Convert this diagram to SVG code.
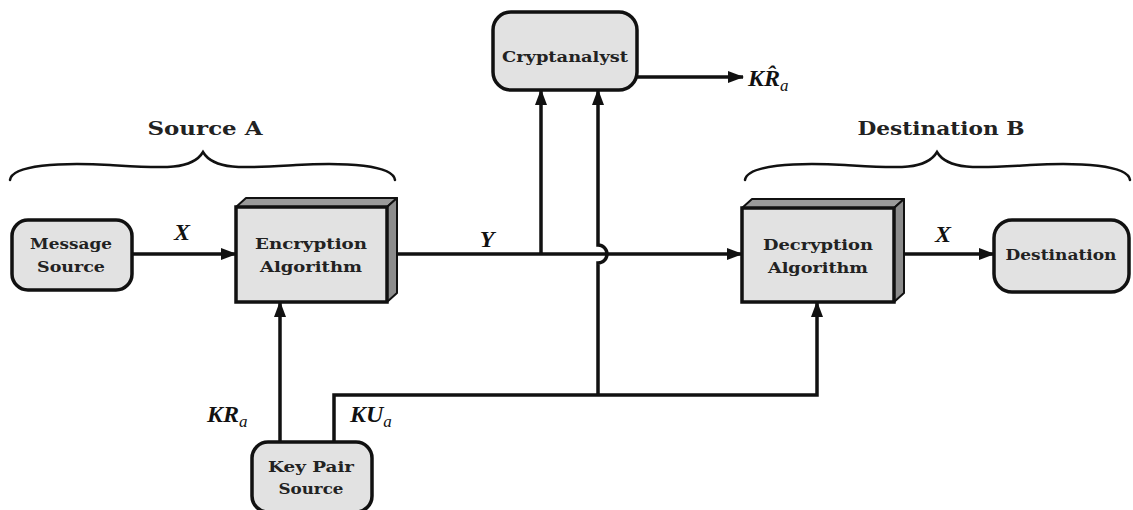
<svg xmlns="http://www.w3.org/2000/svg" width="1133" height="510" viewBox="0 0 1133 510">
  <defs>
    <style>
      .node { fill: #e2e2e2; stroke: #111; stroke-width: 3.5; }
      .top { fill: #9a9a9a; stroke: #111; stroke-width: 2; stroke-linejoin: round; }
      .side { fill: #8c8c8c; stroke: #111; stroke-width: 2; stroke-linejoin: round; }
      .lbl { font-family: "DejaVu Serif", "Liberation Serif", serif; font-weight: bold; font-size: 15px; fill: #222; text-anchor: middle; }
      .head { font-family: "DejaVu Serif", "Liberation Serif", serif; font-weight: bold; font-size: 18px; fill: #222; text-anchor: middle; }
      .var { font-family: "Liberation Serif", serif; font-weight: bold; font-style: italic; font-size: 24px; fill: #111; }
      .sub { font-size: 17px; font-weight: normal; }
      .wire { fill: none; stroke: #111; stroke-width: 3.5; }
      .brace { fill: none; stroke: #111; stroke-width: 2.5; stroke-linecap: round; }
    </style>
    <marker id="arr" viewBox="0 0 16 12" refX="15" refY="6" markerWidth="16" markerHeight="12" markerUnits="userSpaceOnUse" orient="auto">
      <path d="M0,0 L16,6 L0,12 Z" fill="#111"/>
    </marker>
  </defs>

  <rect width="1133" height="510" fill="#fff"/>

  <!-- group braces with titles -->
  <g id="source-a">
    <text class="head" x="205" y="135" textLength="115" lengthAdjust="spacingAndGlyphs">Source A</text>
    <path class="brace" d="M10,180 C12,165 60,162 110,165 C160,168 192,171 203,152 C214,171 246,168 296,165 C346,162 393,165 395,180"/>
  </g>
  <g id="destination-b">
    <text class="head" x="941" y="135" textLength="167" lengthAdjust="spacingAndGlyphs">Destination B</text>
    <path class="brace" d="M745,180 C747,165 795,162 845,165 C895,168 926,171 937,152 C948,171 980,168 1030,165 C1080,162 1128,165 1130,180"/>
  </g>

  <!-- connectors -->
  <g id="connectors">
    <line class="wire" x1="132" y1="254" x2="236" y2="254" marker-end="url(#arr)"/>
    <line class="wire" x1="397" y1="254" x2="742" y2="254" marker-end="url(#arr)"/>
    <line class="wire" x1="541" y1="254" x2="541" y2="90" marker-end="url(#arr)"/>
    <path class="wire" d="M598,395 V263 A9,9 0 0 0 598,245 V90" marker-end="url(#arr)"/>
    <line class="wire" x1="637" y1="77" x2="743" y2="77" marker-end="url(#arr)"/>
    <line class="wire" x1="904" y1="254" x2="994" y2="254" marker-end="url(#arr)"/>
    <line class="wire" x1="280" y1="442" x2="280" y2="302" marker-end="url(#arr)"/>
    <path class="wire" d="M334,442 V395 H817 V302" marker-end="url(#arr)"/>
  </g>

  <!-- connector labels -->
  <g id="labels">
    <text class="var" x="182" y="240" text-anchor="middle">X</text>
    <text class="var" x="487" y="247" text-anchor="middle">Y</text>
    <text class="var" x="943" y="242" text-anchor="middle">X</text>
    <text class="var" x="748" y="86">KR̂<tspan class="sub" dy="5">a</tspan></text>
    <text class="var" x="207" y="422">KR<tspan class="sub" dy="5">a</tspan></text>
    <text class="var" x="350" y="422">KU<tspan class="sub" dy="5">a</tspan></text>
  </g>

  <g id="message-source">
    <rect class="node" x="12" y="220" width="120" height="70" rx="16"/>
    <text class="lbl" x="71" y="249" textLength="82" lengthAdjust="spacingAndGlyphs">Message</text>
    <text class="lbl" x="71" y="272" textLength="68" lengthAdjust="spacingAndGlyphs">Source</text>
  </g>

  <g id="encryption-algorithm">
    <polygon class="top" points="236,207 246,198 397,198 387,207"/>
    <polygon class="side" points="387,207 397,198 397,293 387,302"/>
    <rect class="node" x="236" y="207" width="151" height="95"/>
    <text class="lbl" x="311" y="249" textLength="112" lengthAdjust="spacingAndGlyphs">Encryption</text>
    <text class="lbl" x="311" y="272" textLength="102" lengthAdjust="spacingAndGlyphs">Algorithm</text>
  </g>

  <g id="cryptanalyst">
    <rect class="node" x="493" y="12" width="144" height="78" rx="18"/>
    <text class="lbl" x="565" y="62" textLength="126" lengthAdjust="spacingAndGlyphs">Cryptanalyst</text>
  </g>

  <g id="decryption-algorithm">
    <polygon class="top" points="742,208 752,199 904,199 894,208"/>
    <polygon class="side" points="894,208 904,199 904,293 894,302"/>
    <rect class="node" x="742" y="208" width="152" height="94"/>
    <text class="lbl" x="818" y="250" textLength="110" lengthAdjust="spacingAndGlyphs">Decryption</text>
    <text class="lbl" x="818" y="273" textLength="100" lengthAdjust="spacingAndGlyphs">Algorithm</text>
  </g>

  <g id="destination">
    <rect class="node" x="994" y="220" width="135" height="72" rx="18"/>
    <text class="lbl" x="1061" y="260" textLength="111" lengthAdjust="spacingAndGlyphs">Destination</text>
  </g>

  <g id="key-pair-source">
    <rect class="node" x="252" y="442" width="120" height="70" rx="16"/>
    <text class="lbl" x="311" y="472" textLength="86" lengthAdjust="spacingAndGlyphs">Key Pair</text>
    <text class="lbl" x="311" y="494" textLength="65" lengthAdjust="spacingAndGlyphs">Source</text>
  </g>
</svg>
